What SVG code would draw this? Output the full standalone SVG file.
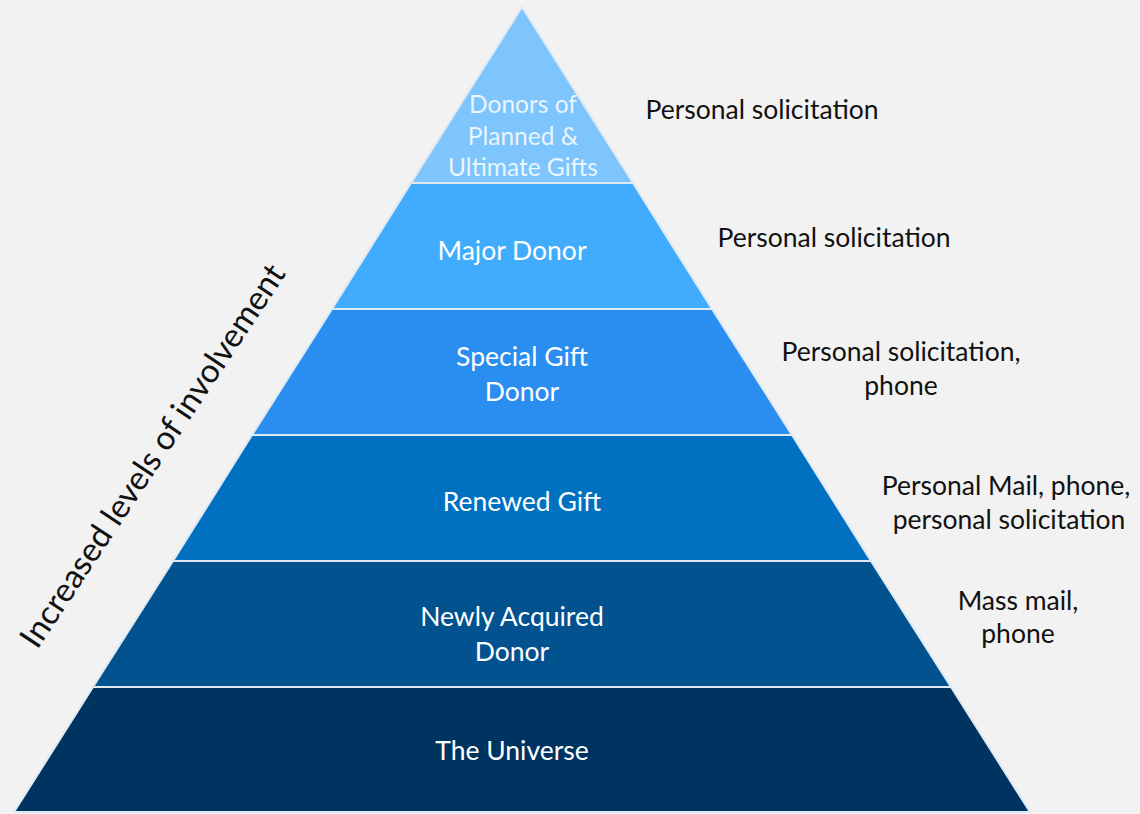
<svg xmlns="http://www.w3.org/2000/svg" width="1140" height="814" viewBox="0 0 1140 814">
<style>
.band{stroke:#dfe9f3;stroke-width:2}
.in{font-family:Lato,"Open Sans",sans-serif;font-size:26.5px;fill:#ffffff;text-anchor:middle}
.top{font-size:24.5px;fill-opacity:0.85}
.out{font-family:Lato,"Open Sans",sans-serif;font-size:26.5px;fill:#111111;text-anchor:middle}
.axis{font-family:Lato,"Open Sans",sans-serif;font-size:33px;fill:#111111;text-anchor:middle}
</style>
<rect width="1140" height="814" fill="#f2f2f2"/>
<g id="level1">
<polygon class="band" points="522,7 633,183 411,183" fill="#7ec5fd"/>
<text class="in top" x="523" y="113">Donors of</text>
<text class="in top" x="523" y="145">Planned &amp;</text>
<text class="in top" x="523" y="176">Ultimate Gifts</text>
</g>
<g id="level2">
<polygon class="band" points="411,183 633,183 712,309 332,309" fill="#41acfe"/>
<text class="in" x="512" y="260">Major Donor</text>
</g>
<g id="level3">
<polygon class="band" points="332,309 712,309 792,435 252,435" fill="#2a8ef1"/>
<text class="in" x="522" y="366">Special Gift</text>
<text class="in" x="522" y="401">Donor</text>
</g>
<g id="level4">
<polygon class="band" points="252,435 792,435 871,561 173,561" fill="#0070c0"/>
<text class="in" x="522" y="511">Renewed Gift</text>
</g>
<g id="level5">
<polygon class="band" points="173,561 871,561 951,687 93,687" fill="#01528f"/>
<text class="in" x="512" y="626">Newly Acquired</text>
<text class="in" x="512" y="661">Donor</text>
</g>
<g id="level6">
<polygon class="band" points="93,687 951,687 1030,812 14,812" fill="#003460"/>
<text class="in" x="512" y="760">The Universe</text>
</g>
<g id="labels">
<text class="out" x="762" y="119">Personal solicitation</text>
<text class="out" x="834" y="247">Personal solicitation</text>
<text class="out" x="901" y="361">Personal solicitation,</text>
<text class="out" x="901" y="395">phone</text>
<text class="out" x="1006" y="495">Personal Mail, phone,</text>
<text class="out" x="1009" y="529">personal solicitation</text>
<text class="out" x="1018" y="610">Mass mail,</text>
<text class="out" x="1018" y="643">phone</text>
</g>
<g id="axis">
<text class="axis" transform="translate(162,462) rotate(-56.5)">Increased levels of involvement</text>
</g>
</svg>
